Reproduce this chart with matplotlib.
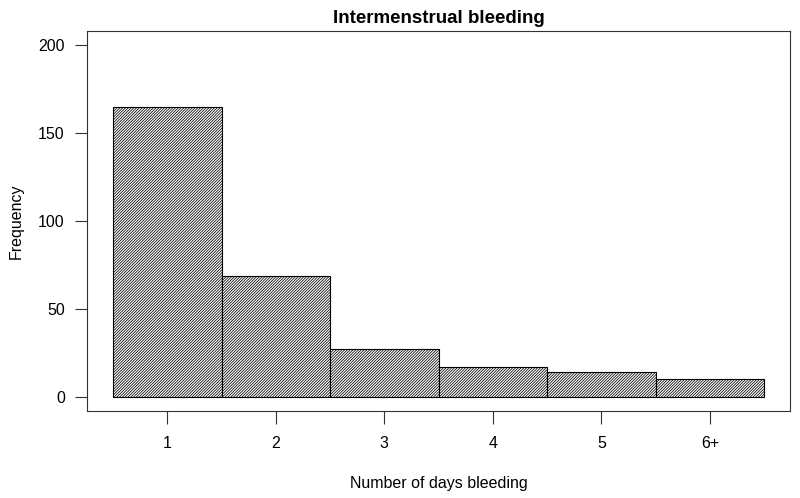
import matplotlib
matplotlib.use("Agg")
import matplotlib.pyplot as plt

plt.rcParams['font.family'] = ['Liberation Sans', 'DejaVu Sans']
plt.rcParams['hatch.linewidth'] = 0.55

days = ["1", "2", "3", "4", "5", "6+"]
freq = [165, 69, 27, 17, 14, 10]
positions = [1, 2, 3, 4, 5, 6]

fig = plt.figure(figsize=(8, 4.98), dpi=100)
ax = fig.add_axes([0.10875, 0.1747, 0.879, 0.7631])

ax.bar(positions, freq, width=1.0, color="white", edgecolor="black",
       hatch="////////////", linewidth=0.8)

ax.set_xlim(0.26, 6.74)
ax.set_ylim(-8, 208)
ax.set_xticks(positions)
ax.set_xticklabels(days)
ax.set_yticks([0, 50, 100, 150, 200])
ax.tick_params(axis="both", direction="out", length=9, width=0.8,
               labelsize=11.5, color="#333333")
ax.tick_params(axis="x", pad=9)
ax.tick_params(axis="y", pad=7)
for s in ax.spines.values():
    s.set_linewidth(0.8)
    s.set_color("#333333")

ax.set_title("Intermenstrual bleeding", fontsize=13.5, fontweight="bold", pad=6)
ax.set_xlabel("Number of days bleeding", fontsize=11.5, labelpad=18)
ax.set_ylabel("Frequency", fontsize=11.5)
ax.yaxis.set_label_coords(-0.09, 0.5)

fig.savefig("out.png", dpi=100)
